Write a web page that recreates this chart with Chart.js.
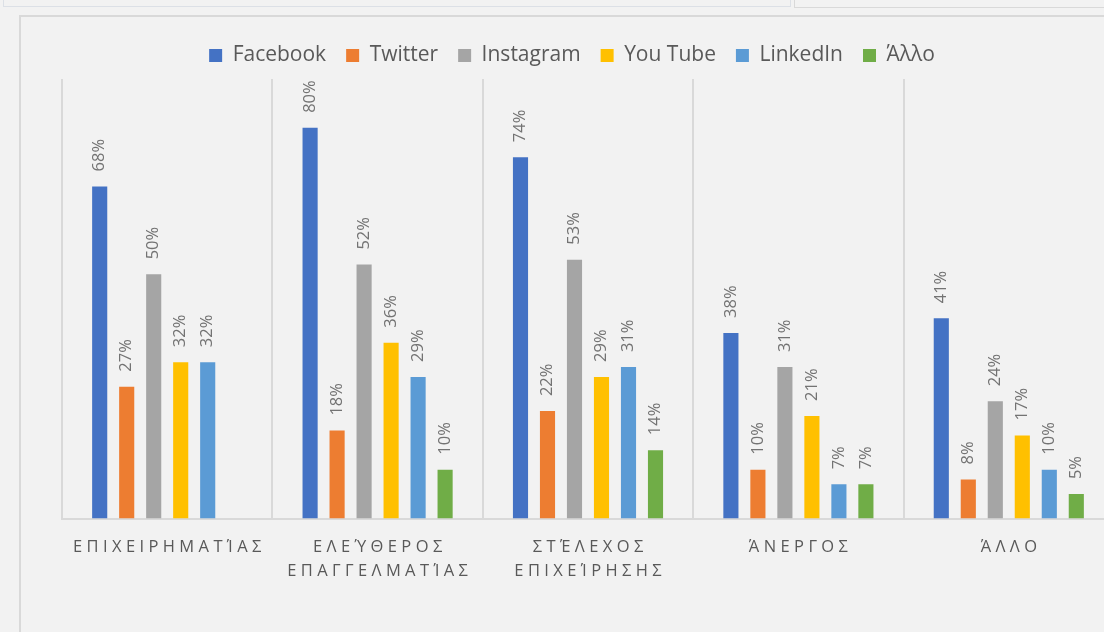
<!DOCTYPE html>
<html>
<head>
<meta charset="utf-8">
<script src="https://cdn.jsdelivr.net/npm/chart.js@4"></script>
<style>
  html, body { margin: 0; padding: 0; background: #f2f2f2; overflow: hidden; }
  body { width: 1104px; height: 632px; position: relative; }
  .panel1 { position: absolute; left: 3px; top: -10px; width: 786px; height: 15px; border: 1px solid #dce0e6; }
  .panel2 { position: absolute; left: 794px; top: -10px; width: 400px; height: 16px; border: 1px solid #d9d9d9; }
  .frame { position: absolute; left: 19px; top: 15px; width: 1200px; height: 700px; border: 2px solid #d9d9d9; }
  #myChart { position: absolute; left: 0; top: 0; }
</style>
</head>
<body>
<div class="panel1"></div>
<div class="panel2"></div>
<div class="frame"></div>
<canvas id="myChart" width="1150" height="632"></canvas>
<script>
// κατηγορίες (ετικέτες άξονα x)
const categories = [
    ['ΕΠΙΧΕΙΡΗΜΑΤΊΑΣ'],
    ['ΕΛΕΎΘΕΡΟΣ', 'ΕΠΑΓΓΕΛΜΑΤΊΑΣ'],
    ['ΣΤΈΛΕΧΟΣ', 'ΕΠΙΧΕΊΡΗΣΗΣ'],
    ['ΆΝΕΡΓΟΣ'],
    ['ΆΛΛΟ']
];

// ποσοστά ανά μέσο
const facebook  = [68, 80, 74, 38, 41];
const twitter   = [27, 18, 22, 10, 8];
const instagram = [50, 52, 53, 31, 24];
const youtube   = [32, 36, 29, 21, 17];
const linkedin  = [32, 29, 31, 7, 10];
const allo      = [null, 10, 14, 7, 5];

const font = '"Open Sans", "Noto Sans", sans-serif';

// ετικέτες τιμών, κάθετες πάνω από τις μπάρες
const barLabels = {
    id: 'barLabels',
    afterDatasetsDraw(chart) {
        const ctx = chart.ctx;
        ctx.save();
        ctx.font = '16.5px ' + font;
        ctx.fillStyle = '#737373';
        ctx.textAlign = 'left';
        ctx.textBaseline = 'middle';
        chart.data.datasets.forEach((ds, i) => {
            chart.getDatasetMeta(i).data.forEach((bar, j) => {
                const v = ds.data[j];
                if (v == null) return;
                ctx.save();
                ctx.translate(bar.x, bar.y - 15);
                ctx.rotate(-Math.PI / 2);
                ctx.fillText(v + '%', 0, 0);
                ctx.restore();
            });
        });
        ctx.restore();
    }
};

// λίγο κενό κάτω από το υπόμνημα και μετατόπιση όπως στο πρωτότυπο
const legendGap = {
    id: 'legendGap',
    beforeInit(chart) {
        const fit = chart.legend.fit;
        chart.legend.fit = function () {
            fit.call(this);
            this.height += 6;
        };
    },
    afterLayout(chart) {
        chart.legend.left -= 16;
        chart.legend.right -= 16;
        chart.legend.top += 3;
    }
};

// αραιά γράμματα όπως στο Excel
const spaced = s => s.split('').join('\u2009\u200A');

const ctx = document.getElementById('myChart');
new Chart(ctx, {
    type: 'bar',
    data: {
        labels: categories,
        datasets: [
            { label: 'Facebook',  data: facebook,  backgroundColor: '#4472C4' },
            { label: 'Twitter',   data: twitter,   backgroundColor: '#ED7D31' },
            { label: 'Instagram', data: instagram, backgroundColor: '#A5A5A5' },
            { label: 'You Tube',  data: youtube,   backgroundColor: '#FFC000' },
            { label: 'LinkedIn',  data: linkedin,  backgroundColor: '#5B9BD5' },
            { label: 'Άλλο',      data: allo,      backgroundColor: '#70AD47' }
        ]
    },
    options: {
        responsive: false,
        animation: false,
        categoryPercentage: 0.77,
        barPercentage: 0.56,
        layout: { padding: { left: 62, right: 36, top: 22, bottom: 32 } },
        plugins: {
            legend: {
                position: 'top',
                labels: {
                    boxWidth: 13,
                    boxHeight: 13,
                    padding: 20,
                    color: '#595959',
                    font: { family: font, size: 21 }
                }
            },
            tooltip: { enabled: false }
        },
        scales: {
            x: {
                grid: { color: '#d9d9d9', lineWidth: 2, drawTicks: false, offset: true },
                border: { color: '#d9d9d9', width: 2 },
                ticks: {
                    color: '#595959',
                    font: { family: font, size: 16.5, lineHeight: 1.5 },
                    padding: 16,
                    maxRotation: 0,
                    autoSkip: false,
                    callback: (value, index) => categories[index].map(spaced)
                }
            },
            y: {
                display: false,
                min: 0,
                max: 90
            }
        }
    },
    plugins: [barLabels, legendGap]
});
</script>
</body>
</html>
